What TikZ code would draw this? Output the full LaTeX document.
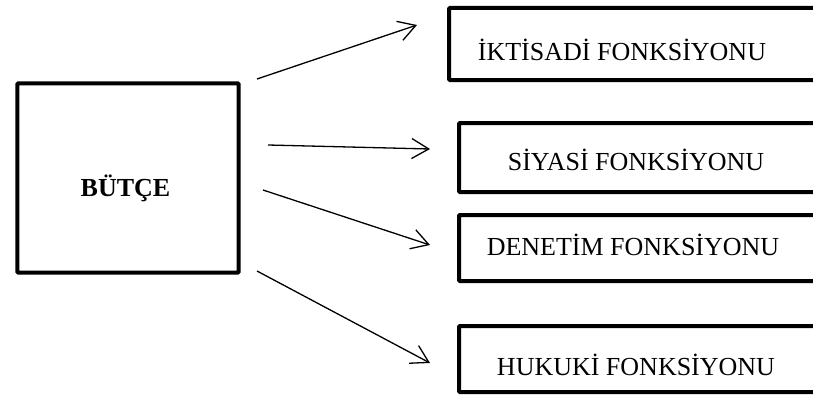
\documentclass[tikz,border=0pt]{standalone}
\usepackage{fontspec}
\setmainfont{Liberation Serif}
\usetikzlibrary{arrows.meta}
\begin{document}
\begin{tikzpicture}[x=1pt,y=-1pt,
  fbox/.style={draw, line width=4pt, rounded corners=1pt, inner sep=0pt, anchor=north west},
  lbl/.style={inner sep=0pt, anchor=base, font=\fontsize{26}{30}\selectfont},
  arr/.style={line width=1.3pt, -{Straight Barb[length=17pt,width=20pt,line width=1.3pt]}}]
\clip (0,0) rectangle (813,396);
\fill[white] (0,0) rectangle (813,396);
\node[fbox, minimum width=221.4pt, minimum height=189.4pt] (butce) at (15.3,81.3) {};
\node[lbl, font=\fontsize{26}{30}\selectfont\bfseries] (tb) at (125.5,196) {BÜTÇE};
\node[fbox, minimum width=400pt, minimum height=72pt] (b1) at (447,6) {};
\node[fbox, minimum width=400pt, minimum height=69pt] (b2) at (457,121) {};
\node[fbox, minimum width=400pt, minimum height=66pt] (b3) at (457,213) {};
\node[fbox, minimum width=400pt, minimum height=66pt] (b4) at (457,324) {};
\node[lbl] (t1) at (622,60) {İKTİSADİ FONKSİYONU};
\node[lbl] (t2) at (636,170) {SİYASİ FONKSİYONU};
\node[lbl] (t3) at (633,255) {DENETİM FONKSİYONU};
\node[lbl] (t4) at (636,375) {HUKUKİ FONKSİYONU};
\coordinate (s1) at (257,79);  \coordinate (e1) at (417,25);
\coordinate (s2) at (268,145); \coordinate (e2) at (430,149);
\coordinate (s3) at (263,190); \coordinate (e3) at (430,245);
\coordinate (s4) at (257,271); \coordinate (e4) at (430,363);
\draw[arr] (s1) -- (e1);
\draw[arr] (s2) -- (e2);
\draw[arr] (s3) -- (e3);
\draw[arr] (s4) -- (e4);
\end{tikzpicture}
\end{document}
